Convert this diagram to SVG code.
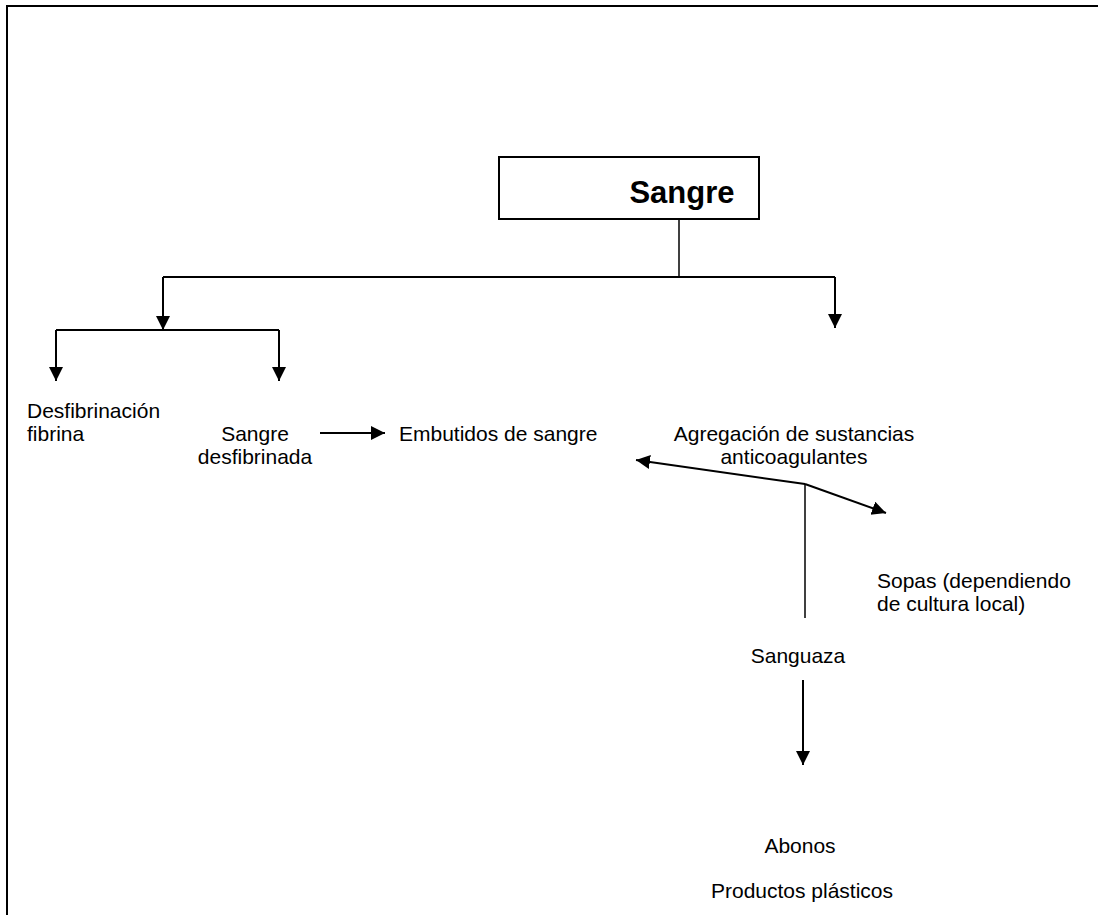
<svg xmlns="http://www.w3.org/2000/svg" width="1098" height="915" viewBox="0 0 1098 915">
  <style>
    text { font-family: "Liberation Sans", Arial, sans-serif; fill: #000; }
    .lbl { font-size: 21px; }
    .title { font-size: 31px; font-weight: bold; }
    .ln { stroke: #000; stroke-width: 2; fill: none; }
    .thin { stroke: #000; stroke-width: 1.5; fill: none; }
  </style>
  <defs>
    <marker id="arr" markerUnits="userSpaceOnUse" markerWidth="16" markerHeight="16" refX="14" refY="7" orient="auto">
      <path d="M0,0 L14,7 L0,14 Z" fill="#000"/>
    </marker>
  </defs>

  <rect width="1098" height="915" fill="#fff"/>

  <!-- page frame -->
  <path class="ln" d="M7,915 V6 H1098"/>

  <g id="sangre">
    <rect x="499" y="157" width="260" height="62" fill="#fff" stroke="#000" stroke-width="2"/>
    <text class="title" x="682" y="203" text-anchor="middle">Sangre</text>
  </g>

  <g id="connectors">
    <path class="thin" d="M679,219 V277"/>
    <path class="ln" d="M163,277 H835"/>
    <path class="ln" d="M163,277 V330" marker-end="url(#arr)"/>
    <path class="ln" d="M835,277 V328" marker-end="url(#arr)"/>
    <path class="ln" d="M56,330 H279"/>
    <path class="ln" d="M56,330 V381" marker-end="url(#arr)"/>
    <path class="ln" d="M279,330 V381" marker-end="url(#arr)"/>
    <path class="ln" d="M320,433 H385" marker-end="url(#arr)"/>
    <path class="ln" d="M805,484 L636,460" marker-end="url(#arr)"/>
    <path class="ln" d="M805,484 L886,513" marker-end="url(#arr)"/>
    <path class="thin" d="M805,484 V618"/>
    <path class="ln" d="M803,680 V765" marker-end="url(#arr)"/>
  </g>

  <g id="desfibrinacion">
    <text class="lbl" x="27" y="418">Desfibrinación</text>
    <text class="lbl" x="27" y="441">fibrina</text>
  </g>

  <g id="sangre-desfibrinada">
    <text class="lbl" x="255" y="441" text-anchor="middle">Sangre</text>
    <text class="lbl" x="255" y="464" text-anchor="middle">desfibrinada</text>
  </g>

  <g id="embutidos">
    <text class="lbl" x="399" y="441">Embutidos de sangre</text>
  </g>

  <g id="agregacion">
    <text class="lbl" x="794" y="441" text-anchor="middle">Agregación de sustancias</text>
    <text class="lbl" x="794" y="464" text-anchor="middle">anticoagulantes</text>
  </g>

  <g id="sopas">
    <text class="lbl" x="877" y="588">Sopas (dependiendo</text>
    <text class="lbl" x="877" y="611">de cultura local)</text>
  </g>

  <g id="sanguaza">
    <text class="lbl" x="798" y="663" text-anchor="middle">Sanguaza</text>
  </g>

  <g id="abonos">
    <text class="lbl" x="800" y="853" text-anchor="middle">Abonos</text>
  </g>

  <g id="productos">
    <text class="lbl" x="802" y="898" text-anchor="middle">Productos plásticos</text>
  </g>
</svg>
